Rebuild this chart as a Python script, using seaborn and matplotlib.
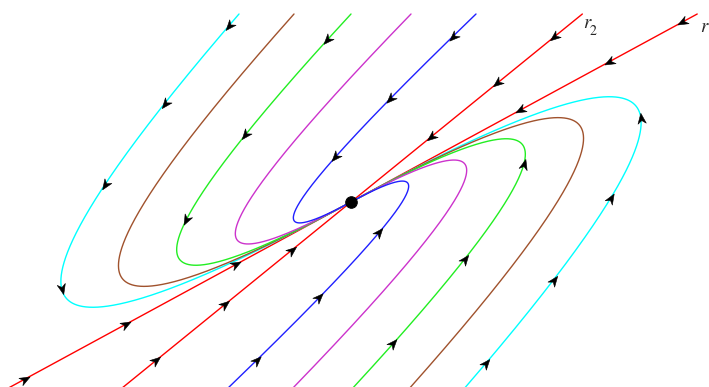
import numpy as np
import pandas as pd
import matplotlib
matplotlib.use("Agg")
import matplotlib.pyplot as plt
import seaborn as sns
from matplotlib.markers import MarkerStyle
from matplotlib.path import Path
from matplotlib.transforms import Affine2D

# Linear system x' = A x given through its eigen-pairs (a stable node)
eigenvalues = [-1.0, -2.0]
r1 = [1.0, 0.543]
r2 = [1.0, 0.8126]

# Trajectories enter through the top edge (y = top_y) at these x positions;
# the mirrored family enters through the bottom edge at (-x, -top_y).
top_y = 1.88
curve_names = ["cyan", "brown", "green", "magenta", "blue"]
curve_colors = ["#00FFFF", "#A0522D", "#22EE22", "#CC33CC", "#2020FF"]
start_x = [-1.12, -0.57, 0.00, 0.60, 1.25]

# Times along each trajectory where a direction arrow sits
arrow_t_upper = {
    "cyan": [0.013, 0.11, 0.25, 0.635],
    "brown": [],
    "green": [0.036, 0.207, 0.485],
    "magenta": [],
    "blue": [0.043, 0.192, 0.406],
    "r1": [0.044, 0.296, 0.719],
    "r2": [0.0655, 0.230, 0.531],
}
arrow_t_lower = {
    "cyan": [0.03, 0.141, 0.298, 0.61],
    "brown": [],
    "green": [0.067, 0.229, 0.603],
    "magenta": [],
    "blue": [0.058, 0.214, 0.485],
    "r1": [0.059, 0.433, 1.104],
    "r2": [0.0856, 0.304, 0.683],
}

lam = np.array(eigenvalues)
V = np.column_stack([r1, r2])
Vinv = np.linalg.inv(V)


def solve(x0, t):
    c = Vinv @ np.asarray(x0, float)
    return (V @ (c[:, None] * np.exp(np.outer(lam, t)))).T


def velocity(x0, t):
    c = Vinv @ np.asarray(x0, float)
    return (V @ (c[:, None] * lam[:, None] * np.exp(np.outer(lam, t)))).T


t_grid = np.concatenate([np.linspace(0, 1.5, 3000), np.linspace(1.5, 14, 1500)[1:]])

sns.set_theme(style="white")

fig = plt.figure(figsize=(7.09, 3.87), dpi=100)
ax = fig.add_axes([0, 0, 1, 1])

arrow_path = Path([(0.5, 0.0), (-0.5, 0.4), (-0.2, 0.0), (-0.5, -0.4), (0.5, 0.0)],
                  [Path.MOVETO, Path.LINETO, Path.LINETO, Path.LINETO, Path.CLOSEPOLY])


def draw_arrows(x0, times):
    if not times:
        return
    pts = solve(x0, np.array(times))
    vel = velocity(x0, np.array(times))
    for p, d in zip(pts, vel):
        ang = np.arctan2(d[1], d[0])
        ms = MarkerStyle(arrow_path, transform=Affine2D().rotate(ang))
        ax.plot([p[0]], [p[1]], marker=ms, markersize=7.5, color="black",
                markeredgewidth=0.4, linestyle="none", zorder=5)


def draw_curve(x0, color, times, lw=1.0):
    xy = solve(x0, t_grid)
    df = pd.DataFrame({"x": xy[:, 0], "y": xy[:, 1]})
    sns.lineplot(data=df, x="x", y="y", sort=False, estimator=None,
                 color=color, lw=lw, ax=ax, legend=False)
    draw_arrows(x0, times)


# Straight-line solutions along the eigenvectors
for name, r in (("r1", r1), ("r2", r2)):
    s = top_y / r[1]
    draw_curve([s * r[0], s * r[1]], "#FF0000", arrow_t_upper[name])
    draw_curve([-s * r[0], -s * r[1]], "#FF0000", arrow_t_lower[name])

for name, color, sx in zip(curve_names, curve_colors, start_x):
    draw_curve([sx, top_y], color, arrow_t_upper[name])
    draw_curve([-sx, -top_y], color, arrow_t_lower[name])

# Equilibrium point
sns.scatterplot(x=[0.0], y=[0.0], s=70, color="black", edgecolor="black",
                ax=ax, zorder=6, legend=False)

# Eigenvector labels: italic r with a lowered subscript
serif = "STIXGeneral"
ax.text(2.325, 1.74, "r", fontsize=13.5, fontfamily=serif, fontstyle="italic",
        ha="left", va="baseline")
ax.text(2.39, 1.67, "2", fontsize=10, fontfamily=serif, ha="left", va="baseline")
ax.text(3.495, 1.70, "r", fontsize=13.5, fontfamily=serif, fontstyle="italic",
        ha="left", va="baseline")
ax.text(3.565, 1.60, "1", fontsize=10, fontfamily=serif, ha="left", va="baseline")

ax.set_xlim(-3.51, 3.58)
ax.set_ylim(-1.85, 2.02)
ax.set_axis_off()

fig.savefig("out.png", dpi=100)
